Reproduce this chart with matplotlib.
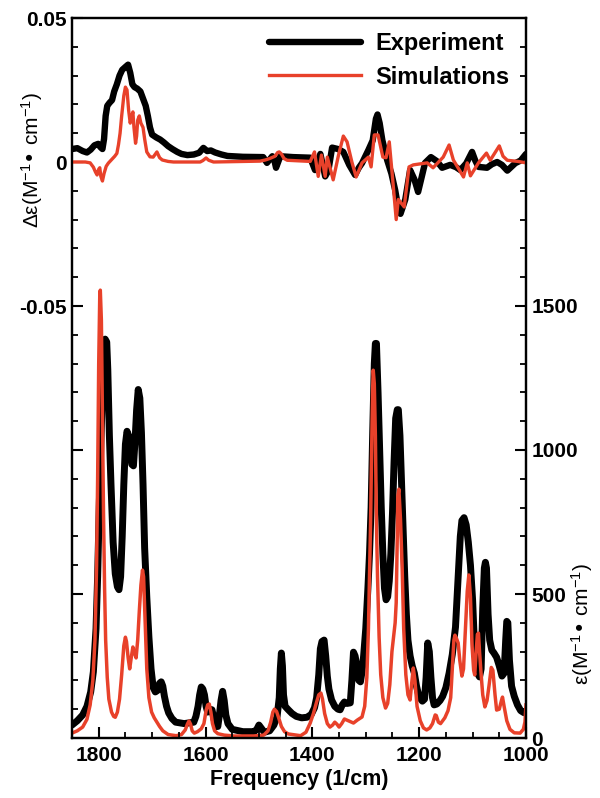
import matplotlib
matplotlib.use('Agg')
import matplotlib.pyplot as plt
from matplotlib.ticker import MultipleLocator, FixedLocator

plt.rcParams['font.family'] = ['Liberation Sans', 'DejaVu Sans']
plt.rcParams['mathtext.default'] = 'regular'

# CD spectrum (top)
cd_exp_freq = [1850, 1840, 1830, 1822, 1815, 1808, 1801, 1797, 1793, 1790, 1787, 1784, 1780, 1775, 1771, 1766,
               1761, 1756, 1750, 1745, 1741, 1737, 1733, 1728, 1722, 1717, 1712, 1708, 1704, 1700, 1692, 1685,
               1678, 1670, 1662, 1653, 1645, 1634, 1622, 1612, 1604, 1597, 1590, 1582, 1570, 1559, 1530, 1492,
               1485, 1475, 1471, 1468, 1464, 1460, 1436, 1404, 1395, 1385, 1376, 1370, 1363, 1352, 1342, 1331,
               1320, 1313, 1307, 1295, 1287, 1281, 1278, 1274, 1269, 1260, 1252, 1245, 1240, 1235, 1226, 1217,
               1209, 1202, 1195, 1189, 1178, 1167, 1157, 1142, 1131, 1123, 1112, 1101, 1095, 1089, 1073, 1064,
               1054, 1045, 1035, 1020, 1010, 1000]
cd_exp = [0.0045, 0.0048, 0.0038, 0.0033, 0.0043, 0.0058, 0.0063, 0.0052, 0.0045, 0.008, 0.016, 0.0195, 0.0205,
          0.0215, 0.0245, 0.027, 0.03, 0.032, 0.033, 0.0338, 0.031, 0.027, 0.026, 0.0255, 0.0245, 0.022, 0.0195,
          0.016, 0.012, 0.0095, 0.0085, 0.0078, 0.0068, 0.0055, 0.0045, 0.0035, 0.0028, 0.0024, 0.0026, 0.0032,
          0.0049, 0.0038, 0.004, 0.0033, 0.0026, 0.0021, 0.0018, 0.0017, -0.0003, 0.002, 0.0005, -0.002, 0.0,
          0.002, 0.0017, 0.0015, -0.0028, 0.0028, -0.005, -0.003, 0.005, 0.0045, 0.0035, -0.001, -0.0045, -0.002,
          -0.0004, 0.0042, 0.0075, 0.015, 0.0165, 0.0135, 0.0076, 0.0007, -0.004, -0.0097, -0.015, -0.018, -0.013,
          -0.0028, -0.006, -0.0104, -0.005, -0.0003, 0.0017, 0.0003, -0.002, -0.001, -0.0018, -0.0028, -0.0005,
          0.0035, 0.0005, -0.0017, -0.002, -0.0008, 0.0, -0.001, -0.003, -0.0004, 0.0005, 0.0028]

cd_sim_freq = [1850, 1825, 1816, 1810, 1806, 1803, 1800, 1798, 1796, 1793, 1790, 1786, 1782, 1776, 1770, 1766,
               1763, 1760, 1757, 1753, 1750, 1747, 1744, 1741, 1738, 1736, 1734, 1731, 1729, 1727, 1724, 1721,
               1717, 1714, 1710, 1704, 1698, 1691, 1686, 1681, 1670, 1660, 1610, 1605, 1599, 1594, 1585, 1498,
               1488, 1480, 1470, 1465, 1462, 1458, 1453, 1447, 1404, 1396, 1389, 1383, 1376, 1372, 1361, 1351,
               1342, 1335, 1326, 1318, 1307, 1295, 1290, 1284, 1277, 1268, 1262, 1256, 1249, 1243, 1239, 1228,
               1219, 1211, 1185, 1174, 1155, 1144, 1136, 1117, 1110, 1104, 1089, 1074, 1067, 1050, 1043, 1035,
               1015, 1000]
cd_sim = [0.0, 0.0, -0.0003, -0.0018, -0.0035, -0.0045, -0.0025, -0.002, -0.005, -0.0066, -0.004, -0.0015, -0.0004,
          0.0008, 0.002, 0.003, 0.006, 0.01, 0.016, 0.023, 0.026, 0.025, 0.018, 0.0135, 0.016, 0.0174, 0.012, 0.0065,
          0.009, 0.0145, 0.016, 0.0135, 0.012, 0.008, 0.0035, 0.0018, 0.0017, 0.0035, 0.0015, 0.0007, 0.0002, 0.0, 0.0,
          0.0005, 0.0014, 0.0006, 0.0, 0.0003, 0.0007, 0.0012, 0.002, 0.0033, 0.0035, 0.0028, 0.0012, 0.0006, 0.0002,
          0.0035, -0.005, 0.0024, -0.005, 0.0017, -0.0062, 0.0024, 0.009, 0.007, 0.0, -0.0052, -0.0003, 0.0017,
          -0.0017, 0.0094, 0.0094, 0.0017, 0.0015, 0.007, -0.0073, -0.02, -0.013, -0.0156, -0.0017, -0.001, -0.0003,
          -0.002, 0.0017, 0.0059, 0.0007, -0.0052, -0.0003, -0.0048, -0.0003, 0.0031, 0.0006, 0.0056, 0.002, 0.0006,
          0.0002, -0.0003]

# IR spectrum (bottom)
ir_exp_freq = [1850, 1840, 1830, 1822, 1815, 1810, 1805, 1802, 1798, 1794, 1790, 1788, 1785, 1783, 1780, 1777,
               1773, 1769, 1765, 1762, 1759, 1756, 1753, 1750, 1747, 1744, 1741, 1738, 1735, 1732, 1729, 1726,
               1723, 1720, 1717, 1714, 1710, 1706, 1702, 1698, 1694, 1690, 1686, 1683, 1680, 1677, 1673, 1669,
               1663, 1656, 1640, 1622, 1618, 1614, 1611, 1608, 1605, 1602, 1599, 1596, 1592, 1588, 1584, 1580,
               1577, 1574, 1571, 1568, 1565, 1562, 1558, 1550, 1530, 1509, 1504, 1500, 1496, 1490, 1480, 1472,
               1466, 1462, 1460, 1458, 1456, 1454, 1451, 1445, 1438, 1430, 1420, 1410, 1402, 1396, 1392, 1388,
               1385, 1382, 1378, 1375, 1372, 1369, 1364, 1358, 1352, 1348, 1344, 1340, 1335, 1329, 1326, 1323,
               1320, 1317, 1313, 1310, 1307, 1304, 1300, 1296, 1293, 1290, 1287, 1284, 1282, 1280, 1277, 1274,
               1271, 1268, 1265, 1262, 1259, 1256, 1253, 1250, 1247, 1244, 1241, 1239, 1236, 1233, 1230, 1227,
               1224, 1221, 1217, 1213, 1209, 1205, 1200, 1194, 1190, 1187, 1184, 1181, 1178, 1175, 1172, 1167,
               1161, 1156, 1150, 1144, 1138, 1132, 1127, 1123, 1120, 1116, 1112, 1108, 1104, 1100, 1096, 1091,
               1087, 1084, 1081, 1078, 1076, 1074, 1071, 1068, 1064, 1060, 1055, 1050, 1045, 1041, 1038, 1036,
               1034, 1031, 1027, 1022, 1016, 1010, 1004, 1000]
ir_exp = [45, 60, 80, 110, 160, 230, 380, 560, 880, 1150, 1350, 1385, 1375, 1280, 1050, 880, 680, 570, 525, 515,
          560, 700, 880, 1020, 1065, 1050, 1000, 950, 945, 1030, 1140, 1210, 1180, 1060, 880, 660, 490, 350, 240,
          175, 160, 165, 190, 195, 180, 145, 110, 87, 68, 55, 50, 55, 75, 110, 150, 177, 170, 150, 110, 90, 100,
          98, 65, 40, 40, 80, 130, 162, 130, 80, 50, 30, 22, 22, 30, 45, 35, 20, 25, 45, 75, 140, 240, 295, 250,
          150, 110, 98, 85, 75, 70, 72, 82, 105, 140, 220, 310, 335, 340, 285, 215, 170, 132, 110, 100, 98, 115,
          125, 120, 122, 200, 298, 285, 255, 200, 195, 230, 285, 380, 520, 640, 800, 1060, 1300, 1370, 1370, 1200,
          1000, 800, 640, 520, 480, 490, 545, 640, 780, 960, 1110, 1140, 1140, 1050, 880, 720, 560, 430, 340, 285,
          250, 225, 180, 142, 128, 135, 210, 330, 300, 210, 140, 115, 118, 130, 145, 175, 225, 290, 385, 560, 700,
          755, 765, 740, 680, 600, 480, 300, 225, 212, 240, 450, 590, 610, 590, 430, 340, 305, 295, 280, 250, 215,
          225, 340, 405, 400, 270, 180, 145, 115, 95, 88, 88]

ir_sim_freq = [1850, 1840, 1830, 1822, 1816, 1811, 1807, 1804, 1802, 1800, 1798, 1797, 1795, 1793, 1791, 1789,
               1787, 1784, 1781, 1776, 1772, 1769, 1765, 1761, 1757, 1753, 1750, 1748, 1745, 1742, 1739, 1736,
               1733, 1730, 1727, 1724, 1721, 1718, 1716, 1713, 1710, 1706, 1701, 1696, 1691, 1686, 1680, 1670,
               1655, 1645, 1638, 1634, 1631, 1628, 1625, 1621, 1615, 1608, 1603, 1599, 1596, 1593, 1590, 1587,
               1583, 1577, 1565, 1547, 1510, 1491, 1483, 1478, 1474, 1471, 1467, 1463, 1458, 1452, 1445, 1422,
               1412, 1404, 1398, 1392, 1388, 1384, 1381, 1377, 1372, 1367, 1362, 1358, 1354, 1350, 1345, 1340,
               1335, 1330, 1323, 1316, 1307, 1302, 1298, 1295, 1293, 1291, 1289, 1287, 1286, 1284, 1282, 1280,
               1278, 1275, 1272, 1268, 1263, 1259, 1255, 1251, 1248, 1245, 1243, 1241, 1240, 1238, 1235, 1232,
               1229, 1225, 1221, 1217, 1214, 1211, 1208, 1204, 1198, 1192, 1186, 1180, 1175, 1170, 1168, 1164,
               1160, 1152, 1146, 1141, 1138, 1135, 1133, 1130, 1127, 1124, 1120, 1117, 1113, 1110, 1107, 1104,
               1101, 1098, 1096, 1094, 1091, 1089, 1087, 1084, 1081, 1077, 1073, 1069, 1065, 1062, 1058, 1055,
               1050, 1046, 1044, 1041, 1036, 1030, 1022, 1011, 1005, 1002, 1000]
ir_sim = [17, 25, 38, 65, 115, 200, 340, 600, 900, 1300, 1540, 1555, 1450, 1100, 780, 520, 340, 210, 135, 90, 75,
          72, 90, 135, 220, 320, 350, 335, 280, 240, 280, 316, 295, 278, 340, 440, 530, 583, 560, 400, 240, 140,
          90, 70, 55, 40, 25, 12, 8, 12, 28, 48, 59, 48, 25, 17, 22, 32, 50, 95, 115, 118, 90, 50, 25, 15, 10, 7,
          7, 10, 25, 55, 90, 100, 92, 70, 40, 22, 14, 8, 20, 52, 85, 125, 150, 156, 135, 85, 50, 38, 45, 55, 48,
          38, 50, 66, 62, 58, 52, 62, 73, 110, 210, 380, 560, 750, 1000, 1220, 1277, 1230, 1050, 750, 560, 350,
          220, 140, 104, 120, 185, 300, 350, 400, 470, 700, 840, 864, 760, 600, 380, 220, 150, 132, 190, 243, 200,
          110, 60, 35, 28, 35, 50, 80, 78, 55, 50, 70, 95, 140, 240, 340, 357, 345, 330, 270, 215, 240, 390, 510,
          566, 490, 320, 235, 219, 280, 360, 364, 300, 220, 150, 108, 130, 185, 245, 235, 150, 97, 100, 130, 142,
          110, 60, 30, 18, 17, 30, 55, 115]

right_ticks = [0, 500, 1000, 1500]
freq_ticks = [1800, 1600, 1400, 1200, 1000]

black = '#000000'
red = '#e8412a'

fig = plt.figure(figsize=(6, 7.98), dpi=100)
ax = fig.add_axes([72 / 600, 1 - 738 / 798, 454 / 600, 720 / 798])
ax2 = ax.twinx()

line_exp, = ax.plot(cd_exp_freq, cd_exp, color=black, lw=4.6, solid_capstyle='round', solid_joinstyle='round')
line_sim, = ax.plot(cd_sim_freq, cd_sim, color=red, lw=2.4, solid_joinstyle='round')
ax2.plot(ir_exp_freq, ir_exp, color=black, lw=5.0, solid_capstyle='round', solid_joinstyle='round')
ax2.plot(ir_sim_freq, ir_sim, color=red, lw=2.5, solid_joinstyle='round')

ax.set_xlim(1850, 1000)
ax.set_ylim(-0.2, 0.05)
ax2.set_ylim(0, 2500)

ax.xaxis.set_major_locator(FixedLocator(freq_ticks))
ax.xaxis.set_minor_locator(MultipleLocator(50))
ax.yaxis.set_major_locator(FixedLocator([0.05, 0, -0.05, -0.1, -0.15]))
ax.yaxis.set_minor_locator(MultipleLocator(0.01))
ax.set_yticklabels(['0.05', '0', '-0.05', '', ''])
ax2.yaxis.set_major_locator(FixedLocator(right_ticks))
ax2.yaxis.set_minor_locator(MultipleLocator(100))

ax.tick_params(axis='y', which='major', direction='in', length=8, width=1.5, labelsize=15, pad=4)
ax.tick_params(axis='x', which='major', direction='in', length=8, width=1.5, labelsize=15, pad=5.5)
ax.tick_params(axis='both', which='minor', direction='in', length=4.3, width=1.3)
ax2.tick_params(axis='y', which='major', direction='in', length=8, width=1.5, labelsize=15, pad=4)
ax2.tick_params(axis='y', which='minor', direction='in', length=4.3, width=1.3)

for a in (ax, ax2):
    for s in a.spines.values():
        s.set_linewidth(1.6)
    for t in a.get_xticklabels() + a.get_yticklabels():
        t.set_fontweight('bold')

ax.set_xlabel('Frequency (1/cm)', fontsize=15.5, fontweight='bold', labelpad=3)
fig.text(32 / 600, 1 - 160 / 798, 'Δε(M$^{-1}$• cm$^{-1}$)', rotation=90, fontsize=15, ha='center', va='center')
fig.text(582 / 600, 1 - 624 / 798, 'ε(M$^{-1}$• cm$^{-1}$)', rotation=90, fontsize=15, ha='center', va='center')

leg = ax.legend([line_exp, line_sim], ['Experiment', 'Simulations'], loc='upper left',
                bbox_to_anchor=(197 / 454, 1 - 14 / 720), frameon=False, borderpad=0, borderaxespad=0,
                handlelength=3.9, handletextpad=0.6, labelspacing=0.45,
                prop={'family': 'Liberation Sans', 'weight': 'bold', 'size': 17})
ax.set_zorder(ax2.get_zorder() + 1)
ax.patch.set_visible(False)

fig.savefig('out.png', dpi=100, facecolor='white')
